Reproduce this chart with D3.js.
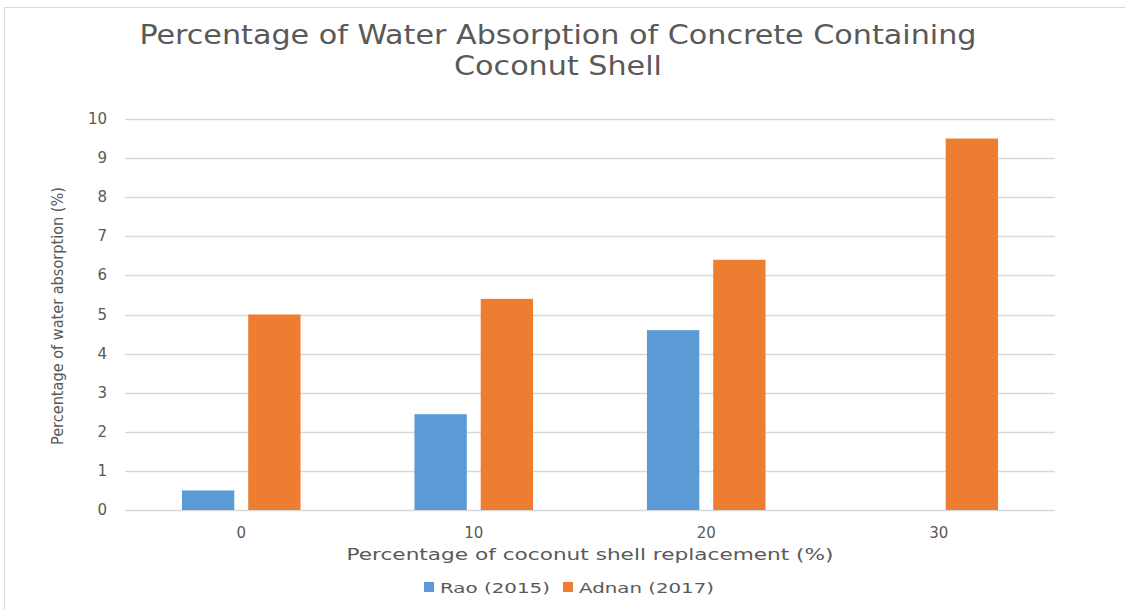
<!DOCTYPE html>
<html>
<head>
<meta charset="utf-8">
<script src="https://cdn.jsdelivr.net/npm/d3@7"></script>
<style>
  body { margin: 0; background: #fff; }
  svg { display: block; }
</style>
</head>
<body>
<svg id="chart" width="1125" height="610"></svg>
<script>
// data
const categories = ['0', '10', '20', '30'];
const seriesNames = ['Rao (2015)', 'Adnan (2017)'];
const raoValues = [0.5, 2.45, 4.6, null];
const adnanValues = [5.0, 5.4, 6.4, 9.5];
const yTicks = [0, 1, 2, 3, 4, 5, 6, 7, 8, 9, 10];
const colours = ['#5B9BD5', '#ED7D31'];

const svg = d3.select('#chart');

// outer frame
svg.append('rect')
  .attr('x', 4.5).attr('y', 7.5)
  .attr('width', 1130).attr('height', 620)
  .attr('fill', 'none')
  .attr('stroke', '#d9d9d9');

const margin = { left: 125, right: 70, top: 119, bottom: 100 };
const width = 1125 - margin.left - margin.right;
const plotBottom = 510;

const x = d3.scaleBand()
  .domain(categories)
  .range([margin.left, margin.left + width])
  .paddingInner(0.49).paddingOuter(0.245);

const y = d3.scaleLinear()
  .domain([0, 10])
  .range([plotBottom, margin.top]);

const x1 = d3.scaleBand()
  .domain(seriesNames)
  .range([0, x.bandwidth()])
  .paddingInner(0.21);

// gridlines
svg.append('g')
  .selectAll('line')
  .data(yTicks)
  .join('line')
    .attr('x1', margin.left).attr('x2', margin.left + width)
    .attr('y1', d => Math.round(y(d)) + 0.5)
    .attr('y2', d => Math.round(y(d)) + 0.5)
    .attr('stroke', '#d9d9d9')
    .attr('stroke-width', 1.5);

// y tick labels
svg.append('g')
  .selectAll('text')
  .data(yTicks)
  .join('text')
    .attr('x', 107)
    .attr('y', d => y(d) + 5)
    .attr('text-anchor', 'end')
    .attr('font-family', 'DejaVu Sans')
    .attr('font-size', 15)
    .attr('fill', '#595959')
    .text(d => d);

// bars
const rows = categories.map((c, i) => ({
  cat: c,
  vals: [raoValues[i], adnanValues[i]]
}));

const groups = svg.append('g')
  .selectAll('g')
  .data(rows)
  .join('g')
    .attr('transform', d => `translate(${x(d.cat)},0)`);

groups.selectAll('rect')
  .data(d => d.vals.map((v, j) => ({ name: seriesNames[j], v, j })).filter(e => e.v != null))
  .join('rect')
    .attr('x', d => x1(d.name))
    .attr('width', x1.bandwidth())
    .attr('y', d => y(d.v))
    .attr('height', d => plotBottom - y(d.v))
    .attr('fill', d => colours[d.j]);

// x tick labels
svg.append('g')
  .selectAll('text')
  .data(categories)
  .join('text')
    .attr('x', d => x(d) + x.bandwidth() / 2)
    .attr('y', 538)
    .attr('text-anchor', 'middle')
    .attr('font-family', 'DejaVu Sans')
    .attr('font-size', 15)
    .attr('fill', '#595959')
    .text(d => d);

// title
const title = svg.append('text')
  .attr('text-anchor', 'middle')
  .attr('font-family', 'DejaVu Sans Condensed, sans-serif')
  .attr('font-size', 26)
  .attr('fill', '#595959');
title.append('tspan').attr('x', 558).attr('y', 44)
  .attr('textLength', 837).attr('lengthAdjust', 'spacingAndGlyphs')
  .text('Percentage of Water Absorption of Concrete Containing');
title.append('tspan').attr('x', 558).attr('y', 75)
  .attr('textLength', 208).attr('lengthAdjust', 'spacingAndGlyphs')
  .text('Coconut Shell');

// axis titles
svg.append('text')
  .attr('transform', 'translate(63,316) rotate(-90)')
  .attr('text-anchor', 'middle')
  .attr('font-family', 'DejaVu Sans Condensed, sans-serif')
  .attr('font-size', 16)
  .attr('fill', '#595959')
  .attr('textLength', 258).attr('lengthAdjust', 'spacingAndGlyphs')
  .text('Percentage of water absorption (%)');

svg.append('text')
  .attr('x', 590).attr('y', 560)
  .attr('text-anchor', 'middle')
  .attr('font-family', 'DejaVu Sans')
  .attr('font-size', 15)
  .attr('fill', '#595959')
  .attr('textLength', 487).attr('lengthAdjust', 'spacingAndGlyphs')
  .text('Percentage of coconut shell replacement (%)');

// legend
const legendX = [424, 563];
const legendW = [110, 135];
const legend = svg.append('g')
  .selectAll('g')
  .data(seriesNames)
  .join('g')
    .attr('transform', (d, i) => `translate(${legendX[i]},582)`);
legend.append('rect')
  .attr('width', 10).attr('height', 10)
  .attr('fill', (d, i) => colours[i]);
legend.append('text')
  .attr('x', 16).attr('y', 11)
  .attr('font-family', 'DejaVu Sans')
  .attr('font-size', 14)
  .attr('fill', '#595959')
  .attr('textLength', (d, i) => legendW[i]).attr('lengthAdjust', 'spacingAndGlyphs')
  .text(d => d);
</script>
</body>
</html>
